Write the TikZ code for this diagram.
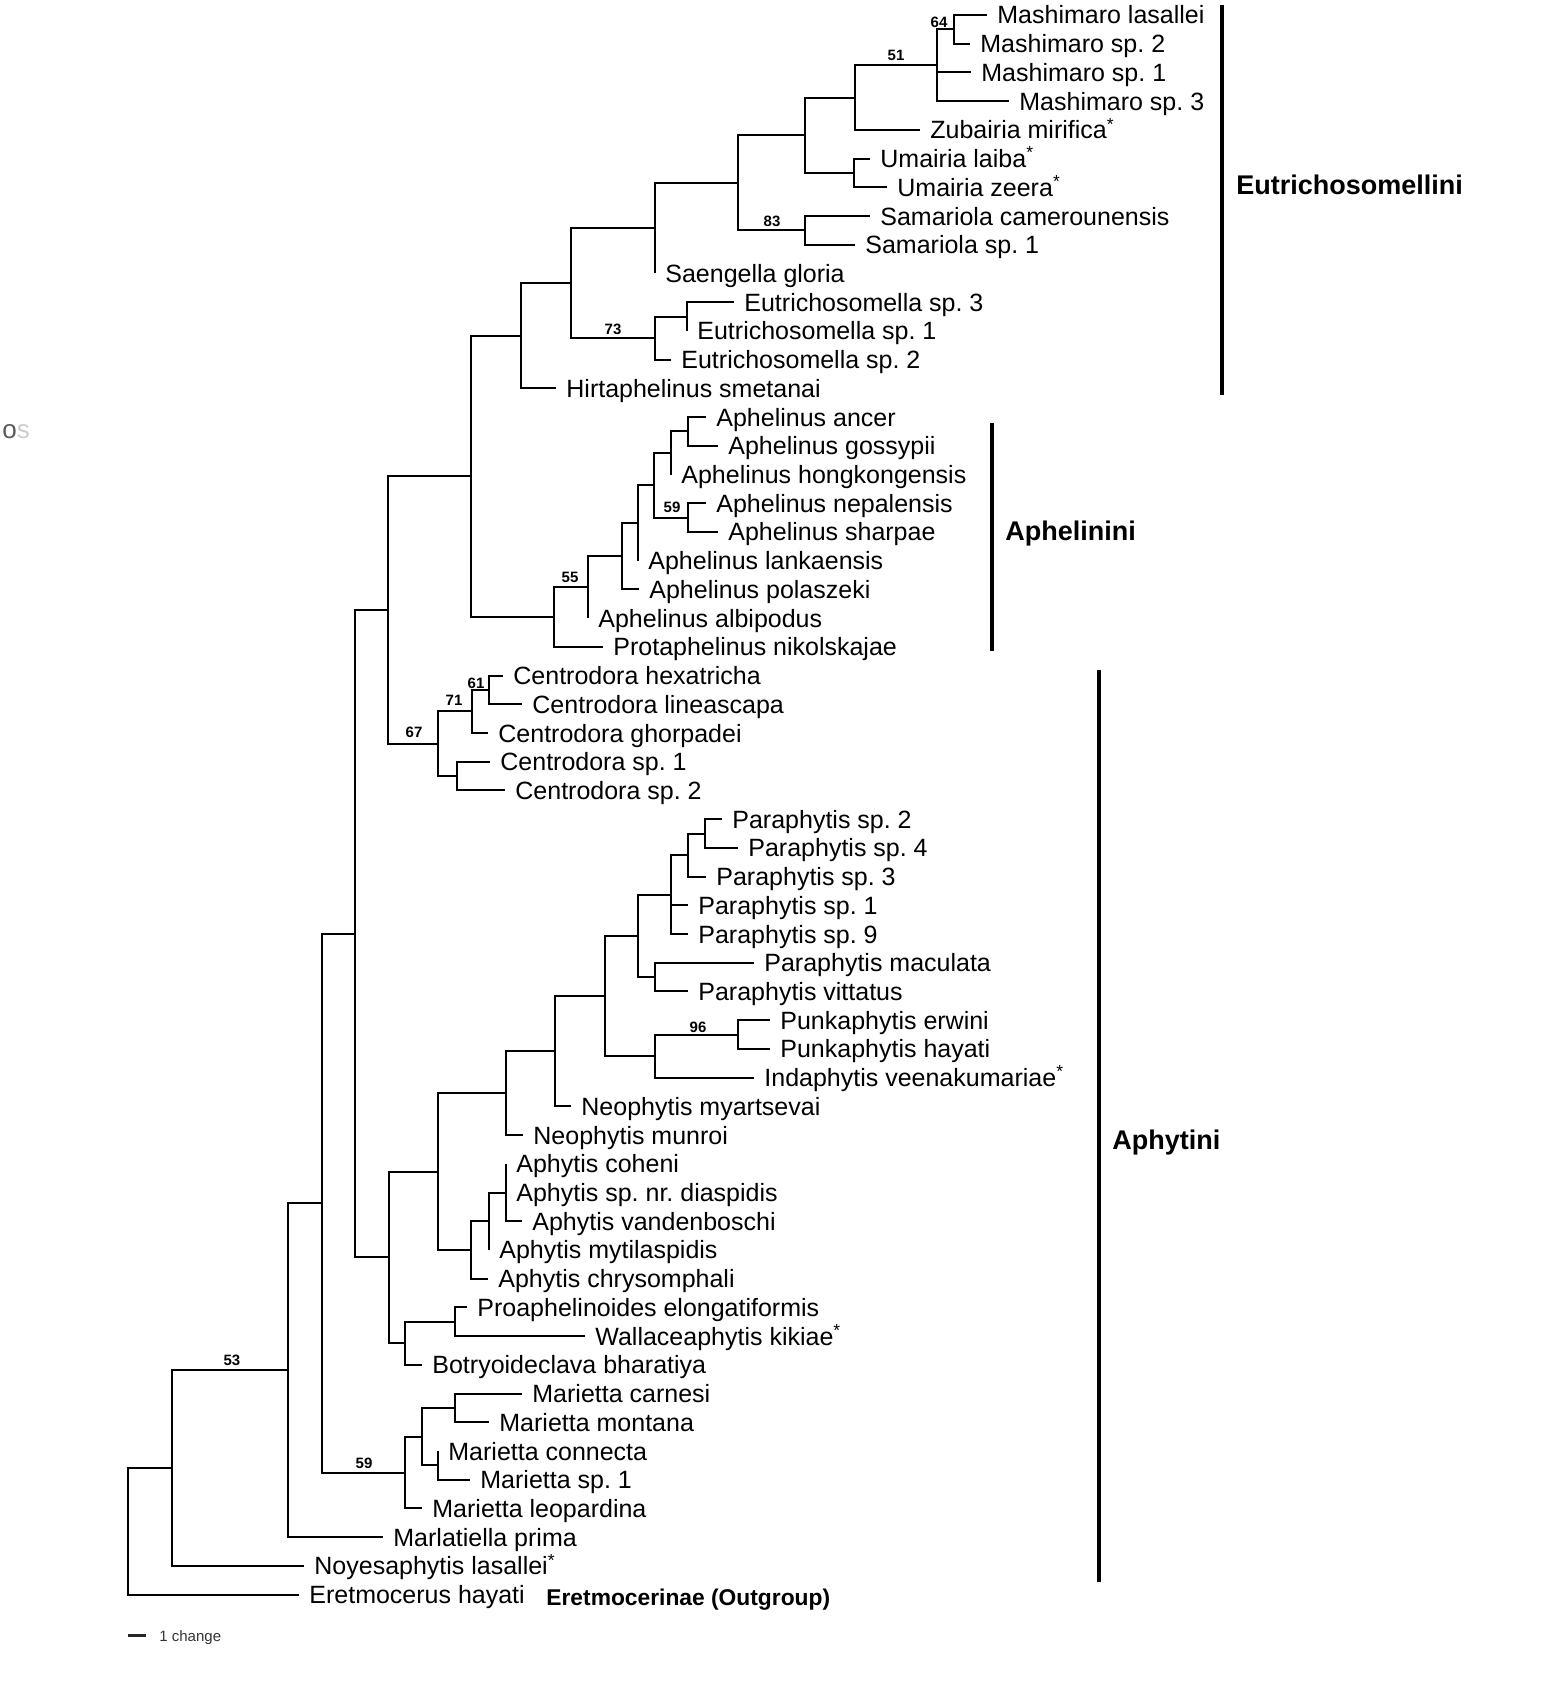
\documentclass[tikz,border=0pt]{standalone}
\usepackage{fontspec}
\setmainfont{Liberation Sans}
\usepackage{tikz}
\frenchspacing

\begin{document}
\begin{tikzpicture}[x=0.5pt, y=-0.5pt,
      taxon/.style={anchor=west, inner xsep=5pt, inner ysep=0pt,
                    text height=9pt, text depth=0pt,
                    font=\fontsize{12.5}{14}\selectfont},
      branch/.style={line width=1pt},
      bs/.style={inner sep=0pt, font=\bfseries\fontsize{7.5}{8}\selectfont},
      tribe/.style={anchor=west, inner sep=0pt, text height=9.7pt, text depth=0pt,
                    font=\bfseries\fontsize{13.5}{15}\selectfont},
      bar/.style={line width=2pt},
      ]
      \useasboundingbox (0,0) rectangle (1547,1697);

      % tips
      \foreach \i/\tx/\name in {
        1/987/Mashimaro lasallei, 2/970/Mashimaro sp. 2, 3/971/Mashimaro sp. 1,
        4/1009/Mashimaro sp. 3, 5/920/Zubairia mirifica\textsuperscript{*},
        6/870/Umairia laiba\textsuperscript{*}, 7/887/Umairia zeera\textsuperscript{*},
        8/870/Samariola camerounensis, 9/855/Samariola sp. 1, 10/655/Saengella gloria,
        11/734/Eutrichosomella sp. 3, 12/687/Eutrichosomella sp. 1,
        13/671/Eutrichosomella sp. 2, 14/556/Hirtaphelinus smetanai,
        15/706/Aphelinus ancer, 16/718/Aphelinus gossypii, 17/671/Aphelinus hongkongensis,
        18/706/Aphelinus nepalensis, 19/718/Aphelinus sharpae, 20/638/Aphelinus lankaensis,
        21/639/Aphelinus polaszeki, 22/588/Aphelinus albipodus,
        23/603/Protaphelinus nikolskajae, 24/503/Centrodora hexatricha,
        25/522/Centrodora lineascapa, 26/488/Centrodora ghorpadei,
        27/490/Centrodora sp. 1, 28/505/Centrodora sp. 2,
        29/722/Paraphytis sp. 2, 30/738/Paraphytis sp. 4, 31/706/Paraphytis sp. 3,
        32/688/Paraphytis sp. 1, 33/688/Paraphytis sp. 9, 34/754/Paraphytis maculata,
        35/688/Paraphytis vittatus, 36/770/Punkaphytis erwini, 37/770/Punkaphytis hayati,
        38/754/Indaphytis veenakumariae\textsuperscript{*}, 39/571/Neophytis myartsevai,
        40/523/Neophytis munroi, 41/506/Aphytis coheni, 42/506/Aphytis sp. nr. diaspidis,
        43/522/Aphytis vandenboschi, 44/489/Aphytis mytilaspidis,
        45/488/Aphytis chrysomphali, 46/467/Proaphelinoides elongatiformis,
        47/585/Wallaceaphytis kikiae\textsuperscript{*}, 48/422/Botryoideclava bharatiya,
        49/522/Marietta carnesi, 50/489/Marietta montana, 51/438/Marietta connecta,
        52/470/Marietta sp. 1, 53/422/Marietta leopardina, 54/383/Marlatiella prima,
        55/304/Noyesaphytis lasallei\textsuperscript{*}, 56/299/Eretmocerus hayati}
        \node[taxon] (t\i) at (\tx,{15+(\i-1)*28.72}) {\name};

      % clades
      \foreach \n/\x/\y in {
        n64/954/29.36, n51/937/65.26, nZub/855/97.57, nUm/854/172.96, nZU/805/135.27,
        n83/805/230.4, nZUS/738/182.83, nSaeng/655/228.16, nEu/687/316.56, n73/655/338.1,
        nSE/571/283.13, nEuRoot/521/335.75,
        nAnc/688/431.44, n671/671/452.98, n59a/688/517.6, n654/654/485.29, n638/638/522.99,
        n622/622/556.2, n55/588/587.16, nAphRoot/554/617, nEA/471/476.38,
        n61/489/689.92, n71/472/711.46, nCsp/457/776.08, n67/438/743.77, nEAC/388/610.08,
        nPA/705/833.52, nPB/688/855.06, nPC/671/894.55, nMV/655/977.12, nPD/638/935.84,
        n96/738/1034.56, nPF/655/1056.1, nPE/605/995.97, nPG/555/1051.17, nPH/506/1093.12,
        nAy3/506/1192.52, nAy2/489/1221.24, nAy1/471/1249.96, nPI/438/1171.54,
        nPL/455/1321.76, nPK/405/1343.3, nPJ/389/1257.42, nAll/355/933.75,
        nMO/455/1407.92, nMP/438/1465.36, nMN/422/1436.64, nMM/405/1472.54,
        n322/322/1203.15, n53/288/1370.16, n172/172/1468.02, root/128/1531.31}
        \coordinate (\n) at (\x,\y);

      \foreach \p/\c in {
        n64/t1.west, n64/t2.west, n51/n64, n51/t3.west, n51/t4.west,
        nZub/n51, nZub/t5.west, nUm/t6.west, nUm/t7.west, nZU/nZub, nZU/nUm,
        n83/t8.west, n83/t9.west, nZUS/nZU, nZUS/n83, nSaeng/nZUS, nSaeng/t10.west,
        nEu/t11.west, nEu/t12.west, n73/nEu, n73/t13.west, nSE/nSaeng, nSE/n73,
        nEuRoot/nSE, nEuRoot/t14.west,
        nAnc/t15.west, nAnc/t16.west, n671/nAnc, n671/t17.west, n59a/t18.west, n59a/t19.west,
        n654/n671, n654/n59a, n638/n654, n638/t20.west, n622/n638, n622/t21.west,
        n55/n622, n55/t22.west, nAphRoot/n55, nAphRoot/t23.west, nEA/nEuRoot, nEA/nAphRoot,
        n61/t24.west, n61/t25.west, n71/n61, n71/t26.west, nCsp/t27.west, nCsp/t28.west,
        n67/n71, n67/nCsp, nEAC/nEA, nEAC/n67,
        nPA/t29.west, nPA/t30.west, nPB/nPA, nPB/t31.west, nPC/nPB, nPC/t32.west, nPC/t33.west,
        nMV/t34.west, nMV/t35.west, nPD/nPC, nPD/nMV, n96/t36.west, n96/t37.west,
        nPF/n96, nPF/t38.west, nPE/nPD, nPE/nPF, nPG/nPE, nPG/t39.west, nPH/nPG, nPH/t40.west,
        nAy3/t41.west, nAy3/t42.west, nAy3/t43.west, nAy2/nAy3, nAy2/t44.west,
        nAy1/nAy2, nAy1/t45.west, nPI/nPH, nPI/nAy1,
        nPL/t46.west, nPL/t47.west, nPK/nPL, nPK/t48.west, nPJ/nPI, nPJ/nPK,
        nAll/nEAC, nAll/nPJ,
        nMO/t49.west, nMO/t50.west, nMP/t51.west, nMP/t52.west, nMN/nMO, nMN/nMP,
        nMM/nMN, nMM/t53.west, n322/nAll, n322/nMM, n53/n322, n53/t54.west,
        n172/n53, n172/t55.west, root/n172, root/t56.west}
        \draw[branch] (\p) |- (\c);

      % bootstrap values
      \foreach \n/\x/\y/\v in {b64/939/22/64, b51/896/55/51, b83/772/221/83, b73/613/329/73,
        b59a/672/507/59, b55/570/577/55, b61/476/683/61, b71/454/700/71, b67/414/732/67,
        b96/698/1027/96, b53/232/1360/53, b59b/364/1463/59}
        \node[bs] (\n) at (\x,\y) {\v};

      % tribes
      \coordinate (eu1) at (1222,5);    \coordinate (eu2) at (1222,395);
      \coordinate (ap1) at (992,423);   \coordinate (ap2) at (992,651);
      \coordinate (ay1) at (1099,670);  \coordinate (ay2) at (1099,1582);
      \draw[bar] (eu1) -- (eu2);
      \draw[bar] (ap1) -- (ap2);
      \draw[bar] (ay1) -- (ay2);
      \node[tribe] (eut) at (1236,185) {Eutrichosomellini};
      \node[tribe] (aph) at (1005,531) {Aphelinini};
      \node[tribe] (aphy) at (1112,1140) {Aphytini};
      \node[anchor=west, inner sep=0pt, text height=8.2pt, text depth=0pt,
            font=\bfseries\fontsize{11.4}{13}\selectfont] (outg) at (546,1597) {Eretmocerinae (Outgroup)};

      % scale
      \coordinate (sc1) at (128,1635);
      \coordinate (sc2) at (146,1635);
      \draw[line width=1.5pt, black!85] (sc1) -- (sc2);
      \node[anchor=west, inner sep=0pt, text height=5.4pt, text depth=0pt, text=black!80,
            font=\fontsize{7.5}{8}\selectfont] (sclab) at (159,1636) {1 change};

      \node[anchor=west, inner sep=0pt, text height=6pt, text depth=0pt,
            font=\fontsize{13}{14}\selectfont] (os) at (2,432) {\textcolor{black!65}{o}\textcolor{black!20}{s}};
\end{tikzpicture}
\end{document}
